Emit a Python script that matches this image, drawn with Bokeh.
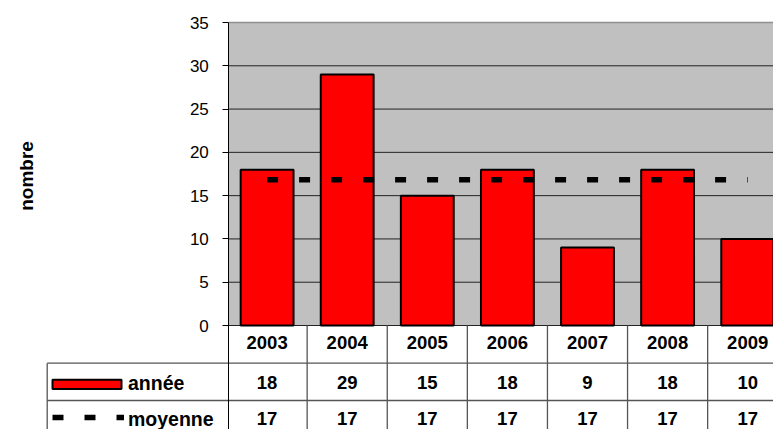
import math
from bokeh.plotting import figure
from bokeh.models import Range1d, FixedTicker, ColumnDataSource, LinearAxis, Label
from bokeh.core.properties import value
from bokeh.embed import file_html
from bokeh.resources import INLINE

# ---- data ----
years = ["2003", "2004", "2005", "2006", "2007", "2008", "2009"]
annee = [18, 29, 15, 18, 9, 18, 10]
moyenne = [16.85, 16.85, 16.85, 16.85, 16.85, 16.85, 16.85]
y_ticks = [0, 5, 10, 15, 20, 25, 30, 35]
series_labels = ["année", "moyenne"]
y_label = "nombre"

FONT = "Liberation Sans"
xs = list(range(len(years)))

# ---- layout helpers (picture-pixel -> data units; layout only) ----
W, H = 773, 429
CAT0 = 266.6   # x of first category centre
CATW = 80.1    # category width, px
Y0 = 325.0     # y of value 0
PXU = 303.0 / 35.0   # px per value unit
def u(px):
    return (px - CAT0) / CATW
def vy(py):
    return (Y0 - py) / PXU

X_START = u(228.3)
X_END = u(W)
Y_MIN, Y_MAX = y_ticks[0], y_ticks[-1]

p = figure(width=W, height=H, output_backend="svg", toolbar_location=None,
           x_range=Range1d(u(0), X_END), y_range=Range1d(vy(H), vy(0)),
           x_axis_location=None, y_axis_location=None, min_border=0)
p.outline_line_color = None
p.background_fill_color = "white"
p.border_fill_color = "white"
p.xgrid.visible = False
p.ygrid.visible = False

# plot area
p.quad(left=[X_START], right=[X_END], bottom=[Y_MIN], top=[Y_MAX],
       fill_color="#C0C0C0", line_color=None)
p.segment(x0=[X_START] * len(y_ticks), y0=y_ticks, x1=[X_END] * len(y_ticks), y1=y_ticks,
          line_color="#222222", line_width=1)
p.segment(x0=[X_START], y0=[Y_MAX], x1=[X_END], y1=[Y_MAX], line_color="#909090", line_width=1.3)

src = ColumnDataSource(dict(x=xs, annee=annee, moyenne=moyenne))
p.vbar(x="x", top="annee", bottom=0, width=0.66, source=src, fill_color="#FF0000",
       line_color="black", line_width=2)
p.line(x="x", y="moyenne", source=src, line_color="black", line_width=5.5,
       line_dash="11 21", line_cap="butt")

# y axis at the left edge of the plot area
ax = LinearAxis(fixed_location=X_START, ticker=FixedTicker(ticks=y_ticks),
                bounds=(vy(H), Y_MAX))
ax.axis_line_color = "black"
ax.axis_line_width = 1
ax.major_tick_line_color = "black"
ax.major_tick_out = 6
ax.major_tick_in = 0
ax.minor_tick_line_color = None
ax.major_label_text_font = FONT
ax.major_label_text_font_size = "17px"
ax.major_label_text_color = "black"
ax.major_label_standoff = 14
p.add_layout(ax, "left")

p.add_layout(Label(x=u(26), y=vy(175.5), text=y_label, angle=math.pi / 2,
                   text_font=FONT, text_font_size="19px", text_font_style="bold",
                   text_align="center", text_baseline="middle", text_color="black"))

# ---- data table ----
GRID = "#555555"
vx = [i + 0.5 for i in xs[:-1]]
p.segment(x0=vx, y0=[Y_MIN] * len(vx), x1=vx, y1=[vy(H)] * len(vx),
          line_color=GRID, line_width=1.3)
p.segment(x0=[u(46.7)] * 2, y0=[vy(362.7), vy(400.0)], x1=[X_END] * 2,
          y1=[vy(362.7), vy(400.0)], line_color=GRID, line_width=1.3)
p.segment(x0=[u(46.7)], y0=[vy(362.7)], x1=[u(46.7)], y1=[vy(H)],
          line_color=GRID, line_width=1.3)

tsrc = ColumnDataSource(dict(x=xs, years=years,
                             annee_txt=[str(v) for v in annee],
                             moy_txt=[str(round(v)) for v in moyenne],
                             y_year=[vy(341.5)] * len(xs),
                             y_an=[vy(381.8)] * len(xs),
                             y_moy=[vy(417.6)] * len(xs)))
for col, ycol in (("years", "y_year"), ("annee_txt", "y_an"), ("moy_txt", "y_moy")):
    p.text(x="x", y=ycol, text=col, source=tsrc, text_font=value(FONT),
           text_font_size="18.5px", text_font_style="bold", text_align="center",
           text_baseline="middle", text_color="black")

# legend keys
p.quad(left=[u(52)], right=[u(121)], top=[vy(379.2)], bottom=[vy(388.4)],
       fill_color="#FF0000", line_color="black", line_width=2)
p.line(x=[u(52), u(123.5)], y=[vy(417.0), vy(417.0)], line_color="black", line_width=5.5,
       line_dash="11 21", line_cap="butt")
p.text(x=[u(127.5), u(127.5)], y=[vy(382.5), vy(418.0)], text=series_labels,
       text_font=value(FONT), text_font_size="19.5px", text_font_style="bold",
       text_align="left", text_baseline="middle", text_color="black")

open("out.html", "w").write(file_html(p, INLINE))
